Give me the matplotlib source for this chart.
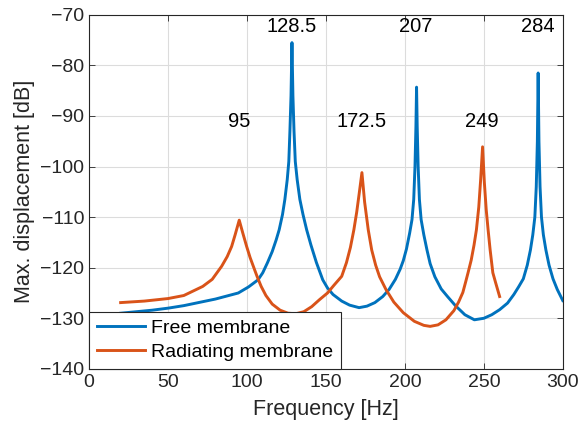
import matplotlib
matplotlib.use("Agg")
import matplotlib.pyplot as plt

plt.rcParams['font.family'] = ['Liberation Sans', 'DejaVu Sans']

# free membrane response
free_f = [20, 30, 40, 50, 60, 80, 94.5, 101, 107, 110, 113, 116, 118.5, 120.4, 122.5,
          124, 125.5, 126.5, 127.2, 127.9, 128.5, 129.1, 129.8, 130.6, 131.8,
          133.5, 135.5, 137.8, 140.5, 144, 148, 151, 154.5, 160, 165, 171,
          176, 181, 186, 190, 194, 197, 199, 201, 203, 204.5, 205.6, 206.4, 207,
          207.4, 207.8, 208.4, 209.2, 210.3, 212, 214, 216, 219, 223, 227, 232,
          238, 244, 250, 255, 260, 265, 269, 272, 275, 277.5, 279.5, 281, 282.3,
          283.2, 283.9, 284.4, 284.9, 285.6, 286.5, 287.7, 289.3, 291.3, 293.8,
          296.5, 300]
free_db = [-129.0, -128.7, -128.4, -128.0, -127.5, -126.2, -125.0, -123.8, -122.4,
           -121.0, -119.0,
           -116.8, -114.5, -112.5, -109.5, -106.5, -102.6, -99.0, -93.0, -86.0,
           -75.5, -86.0, -93.0, -99.0, -102.6, -106.5, -109.5, -112.5, -115.5,
           -119.0, -122.4, -124.0, -125.3, -126.6, -127.4, -127.9,
           -127.6, -126.9, -125.7, -124.3, -122.3, -120.3, -118.6, -116.3, -113.2,
           -110.5, -106.5, -100.0, -92.0, -84.3, -92.0, -100.0, -106.5, -110.5,
           -113.5, -116.5, -119.2, -121.8, -124.2, -125.7, -127.5,
           -129.3, -130.3, -130.0, -129.3, -128.3, -127.0, -125.3, -123.8, -122.2,
           -119.5, -116.5, -113.5, -110.0, -104.0, -95.0, -81.5, -95.0, -104.0,
           -110.0, -113.5, -116.5, -119.5, -122.2, -124.3, -126.5]

# radiating membrane response
rad_f = [20, 35, 50, 60, 72, 78, 84, 87.5, 90.3, 92.5, 95.1, 97.5, 99.8, 102,
         104, 106.5, 109, 112, 116, 121, 126, 131, 136, 141, 146, 151, 155, 160,
         163, 165.5, 167.7, 169.5, 171, 172.8, 174.5, 176.8, 179, 181.5, 184,
         188, 193, 199, 206, 212, 216, 221, 226, 231, 234, 236.7, 238.5, 240,
         242, 243.8, 245.3, 246.8, 248, 249.2, 250.3, 251.5, 252.7, 254, 255.7,
         257.5, 260]
rad_db = [-126.9, -126.6, -126.1, -125.5, -123.7, -122.3, -119.7, -117.8, -115.8,
          -113.5, -110.6, -113.3, -115.8, -118.0, -119.7, -121.8, -123.7, -125.5,
          -127.2, -128.4, -129.0, -129.1, -128.7, -127.7, -126.3, -125.0, -123.5,
          -121.7, -119.0, -116.0, -112.5, -109.0, -105.5, -101.2, -107.0, -112.5,
          -116.5, -119.5, -121.8, -124.3, -126.8, -128.9, -130.6, -131.4, -131.6,
          -131.3, -130.3, -128.5, -126.8, -124.9, -122.8, -121.0, -118.5, -115.5,
          -112.5, -108.0, -102.5, -96.1, -103.0, -108.5, -112.5, -116.5, -121.0,
          -123.0, -125.7]

peak_labels = ['95', '128.5', '172.5', '207', '249', '284']
peak_x = [95, 128.5, 172.5, 207, 249, 284]
peak_y = [-91, -72.3, -91, -72.3, -91, -72.3]

blue = '#0072BD'
orange = '#D95319'

fig = plt.figure(figsize=(5.82, 4.36), dpi=100)
ax = fig.add_axes([0.153, 0.154, 0.814, 0.812])

ax.plot(free_f, free_db, color=blue, lw=2.1, label='Free membrane')
ax.plot(rad_f, rad_db, color=orange, lw=2.1, label='Radiating membrane')

for lab, x, y in zip(peak_labels, peak_x, peak_y):
    ax.text(x, y, lab, ha='center', va='center', fontsize=14.5, color='black')

ax.set_xlim(0, 300)
ax.set_ylim(-140, -70)
ax.set_xticks(range(0, 301, 50))
ax.set_yticks(range(-140, -69, 10))
ax.tick_params(direction='in', top=True, right=True, labelsize=14,
               color='#262626', labelcolor='#262626', length=4, width=0.6)
ax.grid(True, color='#dcdcdc', lw=0.8)
ax.set_axisbelow(True)
for s in ax.spines.values():
    s.set_color('#262626')
    s.set_linewidth(0.8)

ax.set_xlabel('Frequency [Hz]', fontsize=15.5, color='#262626', labelpad=6)
ax.set_ylabel('Max. displacement [dB]', fontsize=15.5, color='#262626', labelpad=4)

leg = ax.legend(loc='lower left', fontsize=14, fancybox=False, framealpha=1,
                edgecolor='#262626', borderaxespad=0, handlelength=2.5,
                borderpad=0.4, labelspacing=0.33, handletextpad=0.3)
leg.get_frame().set_linewidth(0.8)

fig.savefig('out.png', dpi=100)
